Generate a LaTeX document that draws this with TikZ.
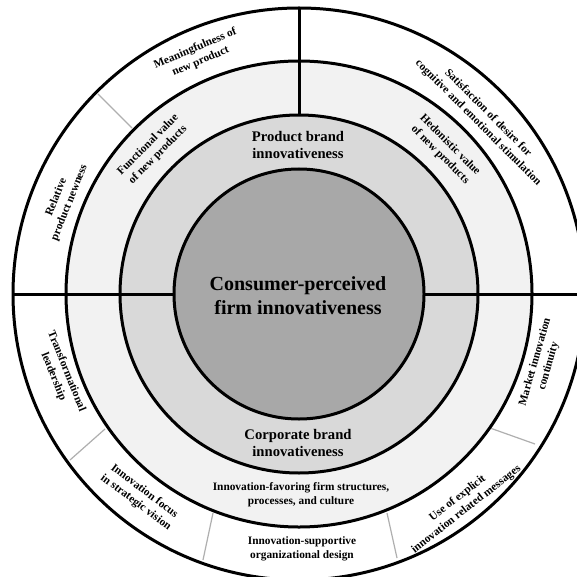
\documentclass[tikz,border=0pt]{standalone}
\usepackage{fontspec}
\setmainfont{Liberation Serif}

\tikzset{every picture/.style={line width=0.75pt}}
\tikzset{
  ringline/.style={line width=2.25pt},
  divider/.style={color={rgb, 255:red, 175; green, 175; blue, 175 }, line width=0.9pt},
  smalltxt/.style={font=\fontsize{8.5}{10.5}\selectfont\bfseries, align=center, inner sep=0.75pt},
  midtxt/.style={font=\fontsize{11}{12.75}\selectfont\bfseries, align=center, inner sep=0.75pt}
}

\begin{document}
\begin{tikzpicture}[x=0.75pt,y=0.75pt,yscale=-1,xscale=1]
%set diagram to 577 x 577
\clip (0,0) rectangle (577,577);

%Shape: Circle (outer ring)
\fill [color={rgb, 255:red, 255; green, 255; blue, 255 }] (299,294) circle (286);
%Shape: Circle (third ring)
\fill [color={rgb, 255:red, 242; green, 242; blue, 242 }] (299,294) circle (233);
%Straight Lines (top)
\draw [ringline] (299,8) -- (299,294);
%Shape: Circle (second ring)
\fill [color={rgb, 255:red, 217; green, 217; blue, 217 }] (299,294) circle (179);
%Straight Lines (middle)
\draw [ringline] (13,294) -- (585,294);
%Shape: Circle (core)
\fill [color={rgb, 255:red, 168; green, 168; blue, 168 }] (299,294) circle (125);

%Straight Lines (dividers)
\draw [divider] (132,128) -- (98,94);
\draw [divider] (105,429) -- (70,460);
\draw [divider] (213,513) -- (203,560);
\draw [divider] (387,513) -- (397,558);
\draw [divider] (490,428) -- (535,444);

%Shape: Circle outlines
\draw [ringline] (299,294) circle (286);
\draw [ringline] (299,294) circle (233);
\draw [ringline] (299,294) circle (179);
\draw [ringline] (299,294) circle (125);

% Text Node
\draw (298,296) node [anchor=center][inner sep=0.75pt] [font=\fontsize{15}{18}\selectfont\bfseries, align=center] {Consumer-perceived\\firm innovativeness};
% Text Node
\draw (298,145) node [midtxt] {Product brand\\innovativeness};
% Text Node
\draw (298,443) node [midtxt] {Corporate brand\\innovativeness};
% Text Node
\draw (301,495) node [smalltxt] {Innovation-favoring firm structures,\\processes, and culture};
% Text Node
\draw (302,549) node [smalltxt] {Innovation-supportive\\organizational design};
% Text Node
\draw (153,150) node [smalltxt, rotate=45] {Functional value\\of new products};
% Text Node
\draw (445,150) node [smalltxt, rotate=-45] {Hedonistic value\\of new products};
% Text Node
\draw (198,55) node [smalltxt, rotate=23] {Meaningfulness of\\new product};
% Text Node
\draw (63,200) node [smalltxt, rotate=68] {Relative\\product newness};
% Text Node
\draw (483,118) node [smalltxt, rotate=-45] {Satisfaction of desire for\\cognitive and emotional stimulation};
% Text Node
\draw (60,374) node [smalltxt, rotate=-68] {Transformational\\leadership};
% Text Node
\draw (140,497) node [smalltxt, rotate=-37] {Innovation focus\\in strategic vision};
% Text Node
\draw (462,504) node [smalltxt, rotate=38] {Use of explicit\\innovation related messages};
% Text Node
\draw (542,364) node [smalltxt, rotate=74] {Market innovation\\continuity};

\end{tikzpicture}
\end{document}
